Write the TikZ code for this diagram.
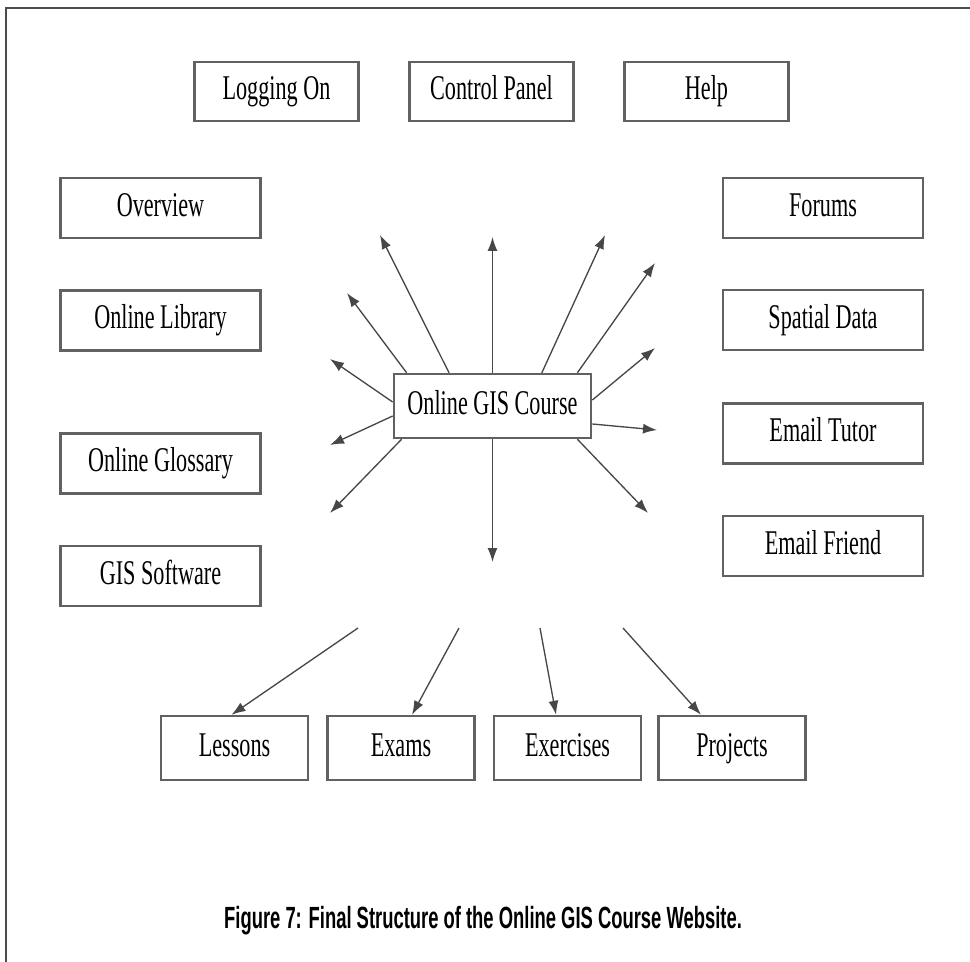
\documentclass[tikz,border=0pt]{standalone}
\usepackage{fontspec}
\usetikzlibrary{arrows.meta}
\newfontfamily\boxfont[FakeStretch=0.64]{Liberation Serif}
\newfontfamily\capfont[FakeStretch=0.6]{Liberation Sans}
\tikzset{
  pagebox/.style={draw=black!62, line width=1.8pt, inner sep=0pt,
    text height=18pt, text depth=5.5pt,
    font=\boxfont\fontsize{26}{26}\selectfont},
  topbox/.style={pagebox, minimum width=123pt, minimum height=44pt},
  sidebox/.style={pagebox, minimum width=150pt, minimum height=45pt},
  lowbox/.style={pagebox, minimum width=110pt, minimum height=48pt},
  link/.style={draw=black!72, line width=1pt, -{Latex[length=10.5pt,width=7.5pt]}}
}
\begin{document}
\begin{tikzpicture}[x=0.75pt,y=-0.75pt]
                            \useasboundingbox (0,0) rectangle (970,962);

                            % Frame
                            \draw[black!70,line width=1.2pt] (6,962) |- (970,8);

                            % Top row
                            \node[topbox] (logon) at (276.5,91.5) {Logging On};
                            \node[topbox] (panel) at (491.5,91.5) {Control Panel};
                            \node[topbox] (help) at (706.5,91.5) {Help};

                            % Left column
                            \node[sidebox] (overview) at (160.5,208) {Overview};
                            \node[sidebox] (library) at (160.5,320.5) {Online Library};
                            \node[sidebox] (glossary) at (160.5,463.5) {Online Glossary};
                            \node[sidebox] (software) at (160.5,576) {GIS Software};

                            % Right column
                            \node[sidebox] (forums) at (823,208) {Forums};
                            \node[sidebox] (spatial) at (823,320) {Spatial Data};
                            \node[sidebox] (tutor) at (823,433.5) {Email Tutor};
                            \node[sidebox] (friend) at (823,546) {Email Friend};

                            % Centre
                            \node[sidebox,minimum width=148pt,minimum height=48pt] (course) at (492.5,406) {Online GIS Course};

                            % Bottom row
                            \node[lowbox] (lessons) at (234.5,748) {Lessons};
                            \node[lowbox] (exams) at (401,748) {Exams};
                            \node[lowbox] (exercises) at (567.5,748) {Exercises};
                            \node[lowbox] (projects) at (732,748) {Projects};

                            % Free arrow ends
                            \coordinate (tipa) at (380,235);
                            \coordinate (tipb) at (347,293);
                            \coordinate (tipc) at (330,359);
                            \coordinate (tipd) at (330,445);
                            \coordinate (tipe) at (330,513);
                            \coordinate (tipf) at (492.5,237);
                            \coordinate (tipg) at (492.5,562);
                            \coordinate (tiph) at (605,235);
                            \coordinate (tipi) at (655,263);
                            \coordinate (tipj) at (655,348);
                            \coordinate (tipk) at (657,430);
                            \coordinate (tipl) at (648,513);
                            \coordinate (taila) at (358,628);
                            \coordinate (tailb) at (459,628);
                            \coordinate (tailc) at (540,628);
                            \coordinate (taild) at (623,628);

                            % Arrows out of the course box
                            \draw[link] ([xshift=-32.6pt]course.north) -- (tipa);
                            \draw[link] ([xshift=10.5pt]course.north west) -- (tipb);
                            \draw[link] ([yshift=3pt]course.west) -- (tipc);
                            \draw[link] ([yshift=-7.5pt]course.west) -- (tipd);
                            \draw[link] ([xshift=6.75pt]course.south west) -- (tipe);
                            \draw[link] (course.north) -- (tipf);
                            \draw[link] (course.south) -- (tipg);
                            \draw[link] ([xshift=37pt]course.north) -- (tiph);
                            \draw[link] ([xshift=-11.25pt]course.north east) -- (tipi);
                            \draw[link] ([yshift=4.5pt]course.east) -- (tipj);
                            \draw[link] ([yshift=-13.5pt]course.east) -- (tipk);
                            \draw[link] ([xshift=-11.25pt]course.south east) -- (tipl);

                            % Arrows into the bottom row
                            \draw[link] (taila) -- ([xshift=-2.25pt]lessons.north);
                            \draw[link] (tailb) -- ([xshift=8.25pt]exams.north);
                            \draw[link] (tailc) -- ([xshift=-8.6pt]exercises.north);
                            \draw[link] (taild) -- ([xshift=-23.25pt]projects.north);

                            % Caption
                            \node[font=\capfont\bfseries\fontsize{23}{23}\selectfont] (caption) at (483,921)
                                  {Figure 7: Final Structure of the Online GIS Course Website.};
                      \end{tikzpicture}
\end{document}
